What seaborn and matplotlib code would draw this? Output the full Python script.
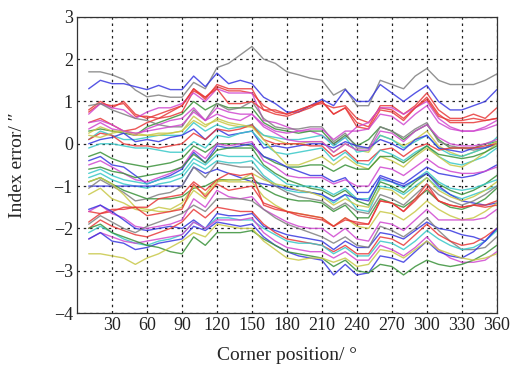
import matplotlib
matplotlib.use("Agg")
import matplotlib.pyplot as plt
import seaborn as sns
import pandas as pd

angles = [10, 20, 30, 40, 50, 60, 70, 80, 90, 100, 110, 120, 130, 140, 150, 160, 170, 180,
          190, 200, 210, 220, 230, 240, 250, 260, 270, 280, 290, 300, 310, 320, 330, 340, 350, 360]
x_ticks = [30, 60, 90, 120, 150, 180, 210, 240, 270, 300, 330, 360]
y_ticks = [-4, -3, -2, -1, 0, 1, 2, 3]

c_blue, c_red, c_green, c_gray = "#3838e0", "#e83a3a", "#3a923a", "#808080"
c_mag, c_cyan, c_yel = "#d048d0", "#38c8c8", "#c8c848"

series = [
    (c_gray, [1.7,1.7,1.63,1.52,1.27,1.11,1.15,1.1,1.1,1.45,1.3,1.8,1.9,2.1,2.3,2.0,1.9,1.7,1.63,1.55,1.5,1.15,1.3,0.9,0.9,1.5,1.4,1.3,1.6,1.78,1.5,1.4,1.4,1.4,1.5,1.65]),
    (c_blue, [1.3,1.5,1.42,1.42,1.35,1.28,1.38,1.28,1.28,1.6,1.35,1.67,1.42,1.5,1.42,1.1,0.95,0.75,0.75,0.9,1.05,0.9,1.28,1.0,1.0,1.4,1.2,1.0,1.2,1.38,1.0,0.8,0.8,0.9,1.0,1.28]),
    (c_red, [0.8,1.0,0.85,1.0,0.7,0.6,0.7,0.8,0.9,1.3,1.05,1.4,1.3,1.3,1.3,0.8,0.8,0.7,0.8,0.9,1.0,0.7,0.85,0.5,0.4,0.9,0.9,0.7,0.9,1.2,0.8,0.6,0.6,0.7,0.6,0.85]),
    (c_red, [0.75,0.95,0.9,0.95,0.65,0.65,0.6,0.65,0.75,1.25,1.1,1.35,1.25,1.25,1.2,0.9,0.75,0.7,0.8,0.9,0.95,0.85,0.9,0.6,0.5,0.85,0.8,0.6,0.85,1.1,0.7,0.5,0.5,0.5,0.55,0.6]),
    (c_mag, [0.7,0.95,0.85,0.8,0.6,0.75,0.85,0.85,0.95,1.2,1.0,1.3,1.2,1.2,1.2,0.55,0.5,0.4,0.3,0.3,0.2,0.0,0.15,0.4,0.5,0.85,0.85,0.7,0.85,1.0,0.6,0.4,0.3,0.3,0.4,0.55]),
    (c_green, [0.3,0.35,0.3,0.25,0.2,0.4,0.5,0.6,0.7,1.0,0.8,0.95,0.85,0.85,0.85,0.5,0.35,0.3,0.25,0.3,0.3,0.0,0.2,-0.05,0.1,0.4,0.3,0.1,0.3,0.45,0.1,-0.1,-0.1,-0.1,0.0,0.05]),
    (c_gray, [0.9,0.95,0.8,0.7,0.6,0.55,0.45,0.4,0.4,0.8,0.55,0.95,0.8,0.85,1.0,0.6,0.4,0.35,0.35,0.4,0.4,0.05,0.25,-0.1,-0.1,0.4,0.3,0.15,0.35,0.5,0.05,-0.05,-0.1,-0.15,-0.1,0.0]),
    (c_red, [0.5,0.6,0.45,0.3,0.35,0.5,0.6,0.75,0.9,1.3,1.1,1.3,0.95,0.95,1.0,0.8,0.7,0.65,0.75,0.85,1.0,0.7,0.85,0.4,0.35,0.8,0.75,0.55,0.85,1.05,0.65,0.55,0.55,0.6,0.55,0.6]),
    (c_mag, [0.35,0.5,0.35,0.3,0.2,0.35,0.45,0.55,0.6,0.85,0.55,0.7,0.6,0.55,0.7,0.45,0.3,0.25,0.3,0.35,0.35,0.1,0.3,0.3,0.35,0.7,0.65,0.45,0.7,0.9,0.5,0.35,0.3,0.3,0.35,0.45]),
    (c_yel, [0.25,0.4,0.3,0.3,0.2,0.2,0.25,0.25,0.3,0.65,0.45,0.55,0.45,0.4,0.4,0.2,0.1,0.0,0.0,0.05,0.05,-0.2,0.0,-0.15,-0.2,0.2,0.1,-0.05,0.1,0.3,-0.05,-0.2,-0.3,-0.2,-0.1,0.05]),
    (c_cyan, [0.1,0.3,0.2,0.1,0.1,0.15,0.2,0.2,0.2,0.5,0.3,0.45,0.35,0.4,0.45,0.2,0.15,0.1,0.1,0.15,0.2,-0.05,0.15,-0.2,-0.15,0.2,0.1,-0.1,0.05,0.2,-0.1,-0.25,-0.3,-0.2,-0.1,0.15]),
    (c_blue, [0.0,0.1,0.15,0.25,0.05,0.1,0.05,0.15,0.2,0.35,0.1,0.35,0.2,0.25,0.3,-0.1,-0.05,-0.1,-0.05,0.0,0.0,-0.1,0.05,-0.05,-0.1,0.1,0.0,-0.15,0.1,0.2,-0.1,-0.15,-0.2,-0.1,-0.1,0.0]),
    (c_red, [0.1,0.25,0.2,0.0,-0.05,-0.05,-0.1,-0.05,0.0,0.25,0.1,0.35,0.3,0.35,0.45,0.1,0.0,0.0,0.0,-0.05,-0.05,-0.3,-0.15,-0.4,-0.4,-0.15,-0.1,-0.3,-0.1,0.0,-0.15,-0.1,-0.1,-0.1,-0.05,0.0]),
    (c_cyan, [-0.1,0.0,0.0,-0.05,-0.1,-0.1,-0.15,-0.2,-0.2,0.05,-0.1,0.2,0.15,0.25,0.3,0.0,-0.2,-0.25,-0.2,-0.15,-0.1,-0.4,-0.2,-0.45,-0.5,-0.15,-0.25,-0.4,-0.2,-0.05,-0.3,-0.45,-0.5,-0.4,-0.3,-0.1]),
    (c_yel, [0.2,0.15,0.25,0.3,0.25,0.2,0.2,0.25,0.3,0.55,0.4,0.6,0.5,0.45,0.4,0.1,-0.2,-0.5,-0.5,-0.4,-0.3,-0.5,-0.3,-0.5,-0.6,-0.3,-0.4,-0.55,-0.3,-0.1,-0.3,-0.5,-0.55,-0.4,-0.2,0.0]),
    (c_mag, [0.5,0.55,0.45,0.3,0.25,0.3,0.35,0.4,0.45,0.75,0.55,0.85,0.75,0.7,0.7,0.4,0.25,0.1,0.05,0.05,0.05,-0.2,0.0,-0.15,-0.15,0.3,0.25,0.05,0.3,0.45,0.15,0.0,-0.05,-0.05,0.0,0.1]),
    (c_green, [-0.3,-0.2,-0.35,-0.45,-0.5,-0.55,-0.5,-0.45,-0.35,-0.05,-0.2,0.0,0.0,0.0,-0.05,-0.3,-0.45,-0.55,-0.55,-0.5,-0.5,-0.65,-0.5,-0.6,-0.6,-0.3,-0.3,-0.45,-0.25,-0.05,-0.25,-0.3,-0.35,-0.3,-0.2,-0.05]),
    (c_blue, [-0.4,-0.3,-0.5,-0.55,-0.75,-0.95,-0.85,-0.75,-0.6,-0.2,-0.45,-0.05,-0.1,-0.05,0.0,-0.3,-0.4,-0.55,-0.65,-0.75,-0.75,-0.9,-0.8,-1.15,-1.15,-0.75,-0.85,-0.95,-0.75,-0.55,-0.7,-0.75,-0.8,-0.75,-0.65,-0.5]),
    (c_mag, [-0.5,-0.4,-0.55,-0.7,-0.85,-0.9,-0.8,-0.7,-0.55,-0.15,-0.35,0.0,-0.05,0.0,0.05,-0.4,-0.55,-0.75,-0.8,-0.8,-0.8,-0.95,-0.85,-1.0,-1.0,-0.55,-0.6,-0.75,-0.55,-0.35,-0.55,-0.65,-0.7,-0.7,-0.65,-0.55]),
    (c_green, [-0.6,-0.55,-0.65,-0.7,-0.8,-0.75,-0.7,-0.65,-0.55,-0.25,-0.45,-0.15,-0.1,-0.1,-0.1,-0.5,-0.7,-0.85,-0.95,-1.05,-1.1,-1.25,-1.1,-1.35,-1.45,-0.9,-1.0,-1.15,-0.9,-0.7,-0.95,-1.1,-1.2,-1.1,-0.95,-0.75]),
    (c_cyan, [-0.7,-0.6,-0.75,-0.85,-0.9,-0.95,-0.85,-0.8,-0.7,-0.35,-0.5,-0.25,-0.3,-0.3,-0.3,-0.55,-0.75,-0.95,-1.0,-1.0,-1.05,-1.2,-1.05,-1.3,-1.3,-0.85,-0.9,-1.05,-0.85,-0.65,-0.9,-1.05,-1.1,-1.05,-0.95,-0.85]),
    (c_cyan, [-0.8,-0.7,-0.85,-0.95,-1.0,-1.05,-0.95,-0.9,-0.8,-0.45,-0.6,-0.4,-0.45,-0.45,-0.4,-0.75,-0.95,-1.1,-1.15,-1.15,-1.2,-1.4,-1.2,-1.55,-1.6,-1.0,-1.05,-1.2,-1.0,-0.8,-1.05,-1.2,-1.3,-1.2,-1.1,-1.0]),
    (c_blue, [-1.0,-1.0,-1.0,-1.0,-1.0,-1.0,-1.0,-1.0,-1.0,-0.55,-0.7,-0.6,-0.7,-0.8,-0.9,-0.95,-1.0,-1.05,-1.1,-1.15,-1.2,-1.35,-1.2,-1.3,-1.35,-0.8,-0.9,-1.0,-0.85,-0.7,-1.0,-1.2,-1.35,-1.4,-1.45,-1.4]),
    (c_gray, [-1.05,-0.85,-1.0,-1.15,-1.35,-1.3,-1.2,-1.15,-1.0,-0.55,-0.8,-0.45,-0.5,-0.55,-0.55,-0.8,-1.0,-1.15,-1.25,-1.3,-1.35,-1.55,-1.4,-1.6,-1.65,-1.2,-1.3,-1.45,-1.2,-0.95,-1.2,-1.35,-1.45,-1.35,-1.2,-1.0]),
    (c_green, [-0.9,-0.8,-0.95,-1.1,-1.2,-1.3,-1.3,-1.3,-1.25,-1.05,-1.0,-0.85,-0.85,-0.85,-0.8,-1.05,-1.2,-1.3,-1.35,-1.35,-1.4,-1.6,-1.45,-1.75,-1.75,-1.3,-1.4,-1.5,-1.3,-1.1,-1.35,-1.5,-1.55,-1.45,-1.3,-1.05]),
    (c_yel, [-0.9,-0.8,-0.95,-1.2,-1.5,-1.55,-1.6,-1.6,-1.5,-1.1,-1.3,-0.9,-0.85,-0.85,-0.7,-0.85,-0.95,-1.0,-1.1,-1.15,-1.25,-1.45,-1.3,-1.45,-1.5,-1.05,-1.1,-1.3,-1.05,-0.8,-1.1,-1.25,-1.35,-1.25,-1.1,-0.9]),
    (c_yel, [-1.2,-1.05,-1.3,-1.4,-1.55,-1.6,-1.5,-1.55,-1.4,-1.0,-1.2,-0.85,-0.9,-0.9,-0.9,-1.25,-1.45,-1.6,-1.65,-1.7,-1.75,-1.95,-1.75,-1.95,-2.0,-1.6,-1.65,-1.8,-1.6,-1.35,-1.55,-1.7,-1.8,-1.75,-1.6,-1.4]),
    (c_red, [-1.6,-1.65,-1.55,-1.55,-1.5,-1.5,-1.3,-1.25,-1.2,-0.9,-1.1,-0.85,-0.7,-0.75,-0.7,-1.45,-1.55,-1.6,-1.65,-1.7,-1.75,-1.95,-1.8,-1.85,-1.9,-1.35,-1.4,-1.6,-1.35,-1.05,-1.35,-1.45,-1.5,-1.45,-1.5,-1.45]),
    (c_red, [-1.85,-1.65,-1.6,-1.5,-1.5,-1.7,-1.65,-1.6,-1.55,-0.95,-1.25,-0.95,-1.1,-1.05,-1.0,-1.4,-1.5,-1.6,-1.7,-1.75,-1.8,-1.95,-1.75,-1.9,-1.9,-1.35,-1.4,-1.6,-1.3,-0.95,-1.35,-1.45,-1.5,-1.45,-1.45,-1.35]),
    (c_mag, [-1.6,-1.45,-1.65,-1.75,-1.95,-2.0,-1.95,-1.9,-1.8,-1.3,-1.5,-1.1,-1.25,-1.3,-1.25,-1.55,-1.7,-1.85,-1.95,-2.0,-2.0,-2.2,-2.0,-2.25,-2.3,-1.85,-1.9,-2.05,-1.8,-1.55,-1.8,-1.8,-1.8,-1.8,-1.75,-1.55]),
    (c_blue, [-1.55,-1.45,-1.6,-1.8,-2.0,-2.05,-2.0,-1.95,-2.0,-1.8,-2.0,-1.65,-1.7,-1.7,-1.65,-1.95,-2.05,-2.15,-2.2,-2.25,-2.3,-2.5,-2.3,-2.45,-2.45,-2.1,-2.15,-2.25,-2.05,-1.85,-2.0,-2.05,-2.15,-2.2,-2.3,-2.0]),
    (c_gray, [-1.9,-1.7,-1.85,-2.0,-2.1,-1.95,-1.85,-1.75,-1.65,-1.45,-1.6,-1.3,-1.3,-1.3,-1.35,-1.55,-1.75,-1.9,-2.0,-2.1,-2.2,-2.35,-2.2,-2.4,-2.45,-1.95,-2.05,-2.2,-2.0,-1.75,-2.05,-2.3,-2.5,-2.5,-2.45,-2.2]),
    (c_red, [-2.0,-1.8,-1.95,-2.05,-2.15,-2.2,-2.1,-2.0,-1.85,-1.55,-1.75,-1.5,-1.55,-1.6,-1.6,-1.9,-2.1,-2.25,-2.3,-2.35,-2.4,-2.55,-2.4,-2.6,-2.6,-2.2,-2.25,-2.4,-2.15,-1.9,-2.15,-2.3,-2.4,-2.35,-2.2,-2.0]),
    (c_cyan, [-2.1,-1.95,-2.1,-2.25,-2.35,-2.4,-2.3,-2.25,-2.15,-1.85,-2.0,-1.75,-1.75,-1.8,-1.8,-2.0,-2.15,-2.3,-2.35,-2.35,-2.4,-2.6,-2.45,-2.65,-2.65,-2.3,-2.35,-2.5,-2.3,-2.05,-2.25,-2.4,-2.5,-2.45,-2.3,-2.05]),
    (c_mag, [-2.25,-2.1,-2.2,-2.3,-2.35,-2.3,-2.25,-2.2,-2.15,-1.85,-2.0,-1.8,-1.8,-1.8,-1.75,-2.1,-2.3,-2.45,-2.5,-2.55,-2.55,-2.7,-2.55,-2.75,-2.75,-2.4,-2.5,-2.65,-2.45,-2.2,-2.5,-2.7,-2.8,-2.8,-2.75,-2.55]),
    (c_blue, [-2.25,-2.1,-2.3,-2.35,-2.5,-2.45,-2.35,-2.3,-2.25,-1.95,-2.05,-1.85,-1.9,-1.95,-1.9,-2.2,-2.4,-2.55,-2.65,-2.7,-2.75,-3.1,-2.85,-3.1,-3.05,-2.65,-2.7,-2.8,-2.55,-2.3,-2.55,-2.65,-2.7,-2.55,-2.3,-2.0]),
    (c_green, [-2.0,-1.9,-2.1,-2.2,-2.3,-2.4,-2.45,-2.55,-2.6,-2.2,-2.4,-2.1,-2.1,-2.1,-2.05,-2.25,-2.4,-2.55,-2.6,-2.65,-2.7,-2.9,-2.75,-3.0,-3.05,-2.85,-2.9,-3.1,-2.9,-2.75,-2.85,-2.9,-2.85,-2.75,-2.6,-2.4]),
    (c_yel, [-2.6,-2.6,-2.65,-2.7,-2.85,-2.7,-2.6,-2.45,-2.3,-2.1,-2.2,-1.9,-1.95,-2.0,-2.0,-2.3,-2.5,-2.7,-2.75,-2.7,-2.7,-2.8,-2.7,-2.9,-2.85,-2.5,-2.55,-2.7,-2.5,-2.3,-2.5,-2.6,-2.7,-2.75,-2.7,-2.6]),
]

rows = []
for i, (col, vals) in enumerate(series):
    for a, v in zip(angles, vals):
        rows.append({"angle": a, "err": v, "line": i})
df = pd.DataFrame(rows)
palette = {i: col for i, (col, _) in enumerate(series)}

sns.set_theme(style="white")
plt.rcParams["font.family"] = ["Liberation Serif", "DejaVu Serif"]
plt.rcParams["axes.unicode_minus"] = True

fig = plt.figure(figsize=(5.17, 3.74), dpi=100)
ax = fig.add_axes([0.149, 0.163, 0.812, 0.792])
sns.lineplot(data=df, x="angle", y="err", hue="line", palette=palette,
             legend=False, ax=ax, linewidth=1.0, alpha=0.85, estimator=None, sort=False)

ax.set_xlim(0, 360)
ax.set_ylim(-4, 3)
ax.set_xticks(x_ticks)
ax.set_yticks(y_ticks)
ax.set_xticklabels([str(t) for t in x_ticks], fontsize=13)
ax.set_yticklabels([str(t).replace("-", "\u2212") for t in y_ticks], fontsize=13)
ax.grid(True, color="#222222", linestyle=(0, (2, 3)), linewidth=0.9)
ax.tick_params(direction="in", length=3, pad=3, colors="#222222")
for s in ax.spines.values():
    s.set_color("#333333")
    s.set_linewidth(0.9)
ax.set_xlabel("Corner position/ \u00b0", fontsize=14, labelpad=9)
ax.set_ylabel("Index error/ \u2033", fontsize=14, labelpad=20)

fig.savefig("out.png", dpi=100)
